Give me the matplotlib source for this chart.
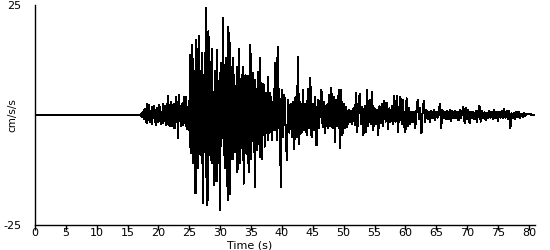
import numpy as np
import matplotlib
matplotlib.use("Agg")
import matplotlib.pyplot as plt

plt.rcParams["axes.unicode_minus"] = False

# quiet pre-event part (s, cm/s/s)
quiet_t = [0.0, 17.0]
quiet_acc = [0.0, 0.0]

# P-wave part, 17.0 - 24.9 s, step 0.1 s
p_start, p_dt = 17.0, 0.1
p_acc = [
    0.0, 0.2, -0.3, 0.4, -0.5, 0.6, -0.9, 1.2, -1.0, 1.4,
    -1.5, 2.5, -1.8, 1.0, -0.6, 2.2, -1.6, 0.5, -1.4, 1.8,
    -2.0, 1.5, -0.6, 2.0, -1.7, 0.8, -2.2, 1.7, -0.5, 1.4,
    -1.6, 2.2, -0.7, 1.8, -2.1, 0.6, -1.5, 2.4, -1.8, 0.9,
    -0.8, 2.0, -2.3, 1.0, -1.4, 4.4, -2.0, 0.9, -2.6, 2.2,
    -0.9, 3.0, -2.4, 1.2, -1.0, 2.6, -3.0, 1.4, -1.2, 4.1,
    -1.5, 2.0, -5.3, 4.6, -1.2, 2.1, -2.6, 1.4, -1.0, 2.7,
    -2.2, 4.1, -1.8, 2.0, -2.4, 4.0, -3.1, 1.6, -1.0, 3.2,
]

# strong motion, 25.0 - 39.9 s, step 0.1 s
s_start, s_dt = 25.0, 0.1
s_acc = [
    -3.5, 13.7, -8.7, 7.0, -2.5, 16.0, -11.0, 8.5, -6.0, 10.0,
    -17.8, 17.0, -7.0, 9.5, -12.0, 18.0, -6.0, 10.0, -9.0, 6.0,
    -11.0, 14.0, -20.0, 9.0, 2.0, -8.5, 11.0, 24.4, -20.5, 6.0,
    -19.4, 19.0, -9.0, 12.0, -6.0, 8.0, -11.0, 15.0, -8.0, 4.5,
    -16.0, 10.0, -4.0, 8.5, -15.0, 14.7, -9.0, 6.0, -11.0, 9.5,
    -21.7, 11.9, -7.0, 10.0, -5.0, 22.0, -9.0, 8.0, -12.0, 13.0,
    -12.0, 8.0, -19.4, 20.0, -6.5, 18.7, -18.0, 7.0, -10.0, 11.0,
    -10.0, 13.0, -5.0, 9.0, -8.5, 6.5, -4.0, 11.0, -13.0, 7.0,
    -8.0, 15.0, -10.9, 7.0, -5.0, 9.0, -7.5, 11.0, -15.6, 8.0,
    -8.7, 9.0, -5.0, 7.5, -9.0, 8.8, -13.0, 5.0, -8.0, 16.0,
    -10.0, 8.0, -5.5, 9.5, -6.0, 5.0, -16.4, 8.0, -5.0, 6.0,
    -8.0, 9.8, -6.5, 5.0, -9.5, 13.0, -7.0, 6.0, -10.0, 7.0,
    -3.0, 6.8, -7.2, 3.5, -2.5, 5.0, -4.0, 8.7, -5.7, 2.5,
    -4.0, 5.0, -2.5, 4.0, -5.7, 3.0, -2.0, 6.0, -3.5, 11.8,
    -3.0, 4.0, -5.7, 15.5, -2.0, 6.0, -3.0, 3.0, -16.4, 2.5,
]

# coda, 40.0 - 80.8 s, step 0.2 s
c_start, c_dt = 40.0, 0.2
c_acc = [
    5.7, -5.0, 4.5, -3.0, -10.3, 3.5, -4.0, 2.5, -5.0, 3.0,
    -7.7, 4.0, -5.0, 13.2, -6.6, 3.0, -4.0, 5.7, -3.5, 2.5,
    -4.5, 6.0, -3.0, 8.4, -5.0, 2.5, -3.5, 4.0, -6.9, 3.4,
    -3.0, 2.5, 5.7, -2.8, 3.0, -4.0, 2.2, -3.0, 4.5, -2.5,
    6.2, -3.0, 4.0, -6.2, 3.5, -2.5, 5.7, -7.5, 5.7, -4.6,
    2.5, -3.0, 1.8, -2.7, 1.2, -1.5, 1.0, -2.0, 1.5, -2.2,
    5.0, -3.9, 2.5, 4.8, -2.0, 1.8, -4.6, 2.0, -3.9, 5.7,
    -2.5, 3.5, -2.0, 5.3, -3.5, 1.5, -2.0, 1.2, -4.6, 2.0,
    -1.8, 2.5, -2.5, 3.3, -1.5, 2.8, -3.3, 1.5, -1.5, 2.0,
    -2.0, 4.3, -1.5, 4.3, -3.9, 1.1, 4.1, -2.0, 3.4, -2.2,
    -3.9, 3.8, -2.5, 1.5, -2.0, 0.8, -1.5, 0.7, -2.9, 1.0,
    3.4, -1.0, 1.5, -4.2, 1.0, 3.2, -1.5, 1.2, -1.0, 0.8,
    -1.5, 1.0, -0.8, 1.2, -1.2, 0.6, -0.6, 1.0, 2.5, -2.9,
    1.2, -0.8, 0.8, -0.9, 1.0, -1.0, 1.2, -1.3, 0.9, -0.7,
    1.0, -0.6, 0.6, -1.2, 1.1, -0.8, 0.7, 1.8, -1.9, 1.6,
    -1.0, 1.2, -1.9, 0.8, -0.6, 0.7, -1.0, 1.0, -1.5, 0.6,
    2.1, -1.5, 1.0, -0.8, 0.6, -1.2, 0.5, -0.8, 0.9, -0.6,
    0.8, -1.0, 1.1, -0.7, 0.7, -1.4, 0.6, -0.6, 0.9, -0.8,
    1.3, -0.6, 0.9, -1.0, 1.0, -3.0, 0.4, -0.8, 0.5, -0.9,
    0.8, -0.5, 0.6, -0.6, 0.3, -0.4, 0.4, -0.2, 0.3, 0.2,
    0.2, 0.2, 0.1, 0.1, 0.1,
]

x_ticks = list(range(0, 81, 5))
y_ticks = [-25, 25]


def seg_times(start, dt, vals):
    return start + dt * np.arange(len(vals))


t = np.concatenate([quiet_t, seg_times(p_start, p_dt, p_acc)[1:],
                    seg_times(s_start, s_dt, s_acc),
                    seg_times(c_start, c_dt, c_acc)])
acc = np.concatenate([quiet_acc, p_acc[1:], s_acc, c_acc])

fig = plt.figure(figsize=(5.5, 2.5), dpi=100)
ax = fig.add_axes([35 / 550, 25 / 250, 500 / 550, 220 / 250])

ax.plot(t, acc, color="black", linewidth=0.75, antialiased=False)

ax.set_xlim(0, 81)
ax.set_ylim(-25, 25)
ax.spines["top"].set_visible(False)
ax.spines["right"].set_visible(False)
ax.spines["left"].set_linewidth(1.0)
ax.spines["bottom"].set_linewidth(1.0)

ax.set_xticks(x_ticks)
ax.set_yticks(y_ticks)
ax.tick_params(axis="x", direction="out", length=3.6, width=1, labelsize=8, pad=-1.5)
ax.tick_params(axis="y", length=0, labelsize=8, pad=10)

fig.text(250 / 550, 1 - 245 / 250, "Time (s)", ha="center", va="center", fontsize=8)
fig.text(12 / 550, 1 - 115 / 250, "cm/s/s", ha="center", va="center",
         rotation=90, fontsize=7.5)

fig.savefig("out.png", dpi=100)
